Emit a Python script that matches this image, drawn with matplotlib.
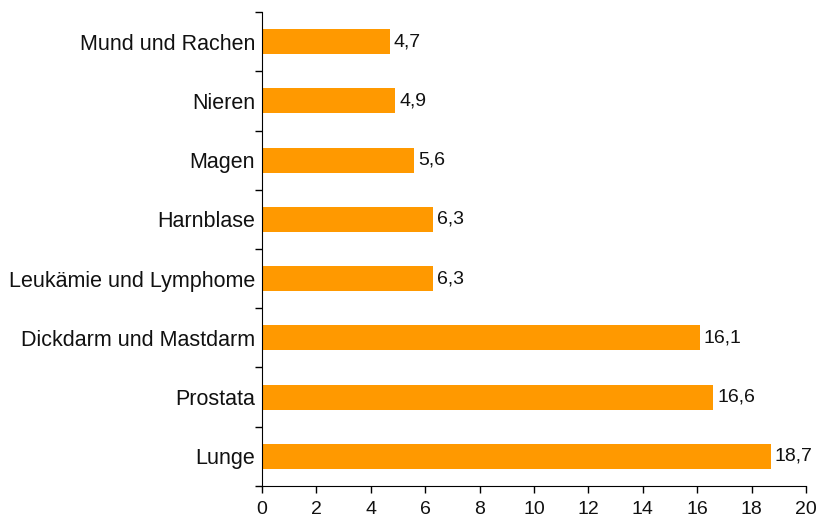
import matplotlib.pyplot as plt
import numpy as np

plt.rcParams['font.family'] = ['Liberation Sans', 'DejaVu Sans']

# Data (bottom to top)
categories = ["Lunge", "Prostata", "Dickdarm und Mastdarm", "Leukämie und Lymphome",
              "Harnblase", "Magen", "Nieren", "Mund und Rachen"]
values = [18.7, 16.6, 16.1, 6.3, 6.3, 5.6, 4.9, 4.7]
xticks = [0, 2, 4, 6, 8, 10, 12, 14, 16, 18, 20]

fig = plt.figure(figsize=(8.19, 5.22), dpi=100)
ax = fig.add_axes([0.320, 0.069, 0.664, 0.908])

y = np.arange(len(categories))
ax.barh(y, values, height=0.42, color="#FF9900")

for yi, v in zip(y, values):
    ax.text(v + 0.15, yi, f"{v:.1f}".replace(".", ","), va="center", ha="left",
            fontsize=14, color="#111111")

ax.set_xlim(0, 20)
ax.set_ylim(-0.5, len(categories) - 0.5)
ax.set_xticks(xticks)
ax.set_xticklabels([str(t) for t in xticks], fontsize=14, color="#111111")

# category labels centered, tick marks at boundaries
ax.set_yticks(y)
ax.set_yticklabels(categories, fontsize=15.5, color="#111111")
ax.tick_params(axis="y", which="major", length=0, pad=5)
ax.set_yticks(np.arange(-0.5, len(categories)), minor=True)
ax.tick_params(axis="y", which="minor", length=5, width=1, direction="out")
ax.tick_params(axis="x", length=5, width=1, direction="out", pad=6)

for s in ["top", "right"]:
    ax.spines[s].set_visible(False)

fig.savefig("out.png", dpi=100)
